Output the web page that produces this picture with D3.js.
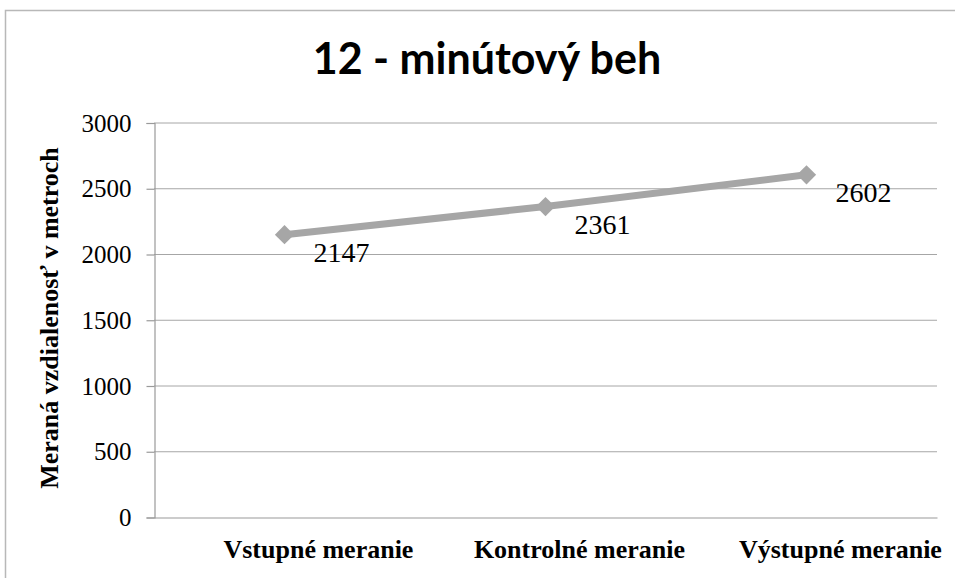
<!DOCTYPE html>
<html><head><meta charset="utf-8">
<script src="https://cdn.jsdelivr.net/npm/d3@7"></script>
</head>
<body style="margin:0">
<svg id="fig" width="955" height="578">
<text x="487" y="74" text-anchor="middle" style="font-family:'Lato';font-weight:bold;font-size:43px">12 - minútový beh</text>
<text transform="translate(58,318) rotate(-90)" text-anchor="middle" style="font-family:'Liberation Serif';font-weight:bold;font-size:26px">Meraná vzdialenosť v metroch</text>
</svg>
<script>
// Data
const categories = ["Vstupné meranie", "Kontrolné meranie", "Výstupné meranie"];
const values = [2147, 2361, 2602];
const yTicks = [0, 500, 1000, 1500, 2000, 2500, 3000];

const svg = d3.select("#fig");
const width = +svg.attr("width");
const height = +svg.attr("height");

const margin = { left: 154, right: 18, top: 122.5, bottom: 61 };

const x = d3.scaleBand()
  .domain(categories)
  .range([margin.left, width - margin.right]);
const y = d3.scaleLinear()
  .domain([0, 3000])
  .range([height - margin.bottom, margin.top]);

const serifStyle = "font-family:'Liberation Serif';";

// chart frame (only left and top edges are visible)
svg.insert("path", ":first-child")
  .attr("d", `M5.5,${height} V10.5 H${width}`)
  .attr("fill", "none")
  .attr("stroke", "#b8b8b8")
  .attr("stroke-width", 1.5);

// gridlines
svg.append("g")
  .selectAll("line")
  .data(yTicks.filter(d => d > 0))
  .join("line")
  .attr("x1", margin.left)
  .attr("x2", width - margin.right)
  .attr("y1", d => y(d) + 0.5)
  .attr("y2", d => y(d) + 0.5)
  .attr("stroke", "#a6a6a6")
  .attr("stroke-width", 1);

// y axis
const yAxis = svg.append("g")
  .attr("transform", `translate(${margin.left + 0.5},0.5)`)
  .call(d3.axisLeft(y).tickValues(yTicks).tickSize(8).tickPadding(15).tickFormat(d3.format("d")));
yAxis.select(".domain").attr("stroke", "#9a9a9a").attr("stroke-width", 1.2);
yAxis.selectAll(".tick line").attr("stroke", "#9a9a9a").attr("stroke-width", 1.2);
yAxis.selectAll(".tick text")
  .attr("style", serifStyle + "font-size:25px")
  .attr("fill", "#000");

// x axis
const xAxis = svg.append("g")
  .attr("transform", `translate(0,${y(0) + 0.5})`)
  .call(d3.axisBottom(x).tickSize(0).tickPadding(0));
xAxis.select(".domain").attr("stroke", "#9a9a9a").attr("stroke-width", 1.2);
xAxis.selectAll(".tick text")
  .attr("style", serifStyle + "font-weight:bold;font-size:26px")
  .attr("fill", "#000")
  .attr("dy", 0)
  .attr("y", 40)
  .attr("x", x.bandwidth() * 0.13);

// series
const cx = (d, i) => x(categories[i]) + x.bandwidth() / 2;
const line = d3.line()
  .x((d, i) => cx(d, i))
  .y(d => y(d));

svg.append("path")
  .datum(values)
  .attr("d", line)
  .attr("fill", "none")
  .attr("stroke", "#a6a6a6")
  .attr("stroke-width", 7);

svg.append("g")
  .selectAll("path")
  .data(values)
  .join("path")
  .attr("d", d3.symbol(d3.symbolSquare, 185)())
  .attr("transform", (d, i) => `translate(${cx(d, i)},${y(d)}) rotate(45)`)
  .attr("fill", "#a6a6a6");

// data labels
svg.append("g")
  .selectAll("text")
  .data(values)
  .join("text")
  .attr("x", (d, i) => cx(d, i) + 29)
  .attr("y", d => y(d) + 27)
  .attr("style", serifStyle + "font-size:28px")
  .text(d => d);
</script>
</body></html>
